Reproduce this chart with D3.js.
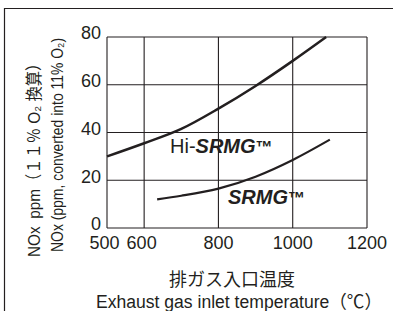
<!DOCTYPE html>
<html>
<head>
<meta charset="utf-8">
<script src="https://cdn.jsdelivr.net/npm/d3@7"></script>
<style>
  body { margin: 0; background: #fff; }
  text { font-family: "Liberation Sans", Arial, "Noto Sans CJK JP", sans-serif; fill: #231f20; }
</style>
</head>
<body>
<div id="chart"></div>
<script>
// NOx vs exhaust gas inlet temperature

var xTicks = [500, 600, 800, 1000, 1200]
var yTicks = [0, 20, 40, 60, 80]

// Hi-SRMG curve (temperature, ppm)
var hiTemp = [500, 600, 700, 800, 900, 1000, 1090]
var hiNox  = [30, 35.5, 41.5, 50, 59.5, 70, 80]

// SRMG curve
var srTemp = [635, 700, 800, 900, 1000, 1100]
var srNox  = [12, 13.5, 16.5, 21.5, 28.5, 37]

var width = 393, height = 311
var ink = "#231f20"

var svg = d3.select("#chart").append("svg")
    .attr("width", width)
    .attr("height", height)

// outer frame (top + left only)
svg.append("path")
    .attr("d", "M4.5," + height + "V8.5H" + width)
    .attr("fill", "none")
    .attr("stroke", ink)
    .attr("stroke-width", 1.2)

var x = d3.scaleLinear().domain([500, 1200]).range([107, 367])
var y = d3.scaleLinear().domain([0, 80]).range([228, 37])

// grid
svg.append("g")
  .selectAll("line")
  .data(xTicks)
  .enter().append("line")
    .attr("x1", d => x(d)).attr("x2", d => x(d))
    .attr("y1", y(0)).attr("y2", y(80))
    .attr("stroke", ink).attr("stroke-width", 1.1)

svg.append("g")
  .selectAll("line")
  .data(yTicks)
  .enter().append("line")
    .attr("x1", x(500)).attr("x2", x(1200))
    .attr("y1", d => y(d)).attr("y2", d => y(d))
    .attr("stroke", ink).attr("stroke-width", 1.1)

// tick labels
svg.append("g")
  .selectAll("text")
  .data(yTicks)
  .enter().append("text")
    .attr("x", 101)
    .attr("y", d => y(d) - 4)
    .attr("dy", "0.35em")
    .attr("text-anchor", "end")
    .style("font-size", "18px")
    .text(d => d)

svg.append("g")
  .selectAll("text")
  .data(xTicks)
  .enter().append("text")
    // 500 and 600 sit close, nudge them left a bit like the original
    .attr("x", d => x(d) - (d < 700 ? 2.5 : 0))
    .attr("y", 249)
    .attr("text-anchor", "middle")
    .style("font-size", "18px")
    .text(d => d)

// curves
var line = d3.line()
    .x(d => x(d[0]))
    .y(d => y(d[1]))
    .curve(d3.curveMonotoneX)

svg.append("path")
    .datum(d3.zip(hiTemp, hiNox))
    .attr("d", line)
    .attr("fill", "none")
    .attr("stroke", ink)
    .attr("stroke-width", 2.5)

svg.append("path")
    .datum(d3.zip(srTemp, srNox))
    .attr("d", line)
    .attr("fill", "none")
    .attr("stroke", ink)
    .attr("stroke-width", 2.2)

// curve labels
var hi = svg.append("text")
    .attr("x", 170).attr("y", 153)
    .style("font-size", "20px")
hi.append("tspan").text("Hi-")
hi.append("tspan").style("font-weight", "bold").style("font-style", "italic").text("SRMG")
hi.append("tspan").style("font-weight", "bold").style("font-size", "17px").text("™")

var sr = svg.append("text")
    .attr("x", 228).attr("y", 204)
    .style("font-size", "20px")
sr.append("tspan").style("font-weight", "bold").style("font-style", "italic").text("SRMG")
sr.append("tspan").style("font-weight", "bold").style("font-size", "17px").text("™")

// axis titles (squeezed along the text to the original's narrower face)
svg.append("text")
    .attr("transform", "translate(40,257) rotate(-90) scale(0.9,1)")
    .style("font-size", "17px")
    .text("NOx\u2002ppm（１１％ O₂ 換算）")

svg.append("text")
    .attr("transform", "translate(62.5,252) rotate(-90) scale(0.82,1)")
    .style("font-size", "17px")
    .text("NOx (ppm, converted into 11% O₂)")

svg.append("text")
    .attr("x", 232).attr("y", 286)
    .attr("text-anchor", "middle")
    .style("font-size", "18px")
    .text("排ガス入口温度")

svg.append("text")
    .attr("x", 96).attr("y", 308)
    .attr("textLength", 286)
    .attr("lengthAdjust", "spacingAndGlyphs")
    .style("font-size", "18px")
    .text("Exhaust gas inlet temperature（℃）")
</script>
</body>
</html>
